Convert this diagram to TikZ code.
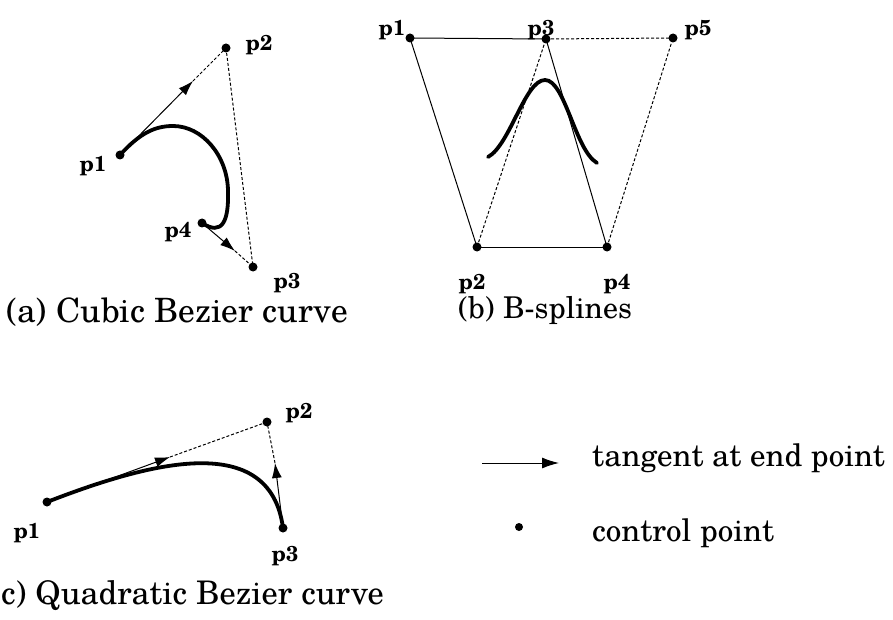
\documentclass[tikz,border=0pt]{standalone}
\usepackage{fontspec}
\setmainfont{TeX Gyre Schola}
\usetikzlibrary{arrows.meta,calc}
\begin{document}
\begin{tikzpicture}[x=1pt,y=-1pt,
 cp/.style={circle,fill=black,inner sep=0pt,minimum size=9pt},
 lbl/.style={font=\fontsize{21.5}{24}\selectfont\bfseries,inner sep=0pt},
 captext/.style={font=\fontsize{31}{36}\selectfont,inner sep=0pt},
 thinln/.style={line width=1pt},
 dashln/.style={line width=1pt,dash pattern=on 3pt off 2pt},
 tanarrow/.style={line width=1pt,-{Latex[length=15pt,width=10pt]}},
 crv/.style={line width=3.8pt,line cap=round}]
\useasboundingbox (0,0) rectangle (893,620);
\fill[white] (0,0) rectangle (893,620);

% ---------- (a) cubic Bezier
\node[cp] (a1) at (120,155) {};
\node[cp] (a2) at (226,48) {};
\node[cp] (a3) at (253,267) {};
\node[cp] (a4) at (202,223) {};
\coordinate (at1) at (193,81);
\coordinate (at4) at (235,251);
\draw[crv] (a1.center) .. controls (140,133) and (155,126) .. (173,126)
  .. controls (202,126) and (227,155) .. (228,190)
  .. controls (229,222) and (222,236) .. (a4.center);
\draw[tanarrow] (a1.center) -- (at1);
\draw[dashln] (at1) -- (a2.center);
\draw[tanarrow] (a4.center) -- (at4);
\draw[dashln] (at4) -- (a3.center);
\draw[dashln] (a2.center) -- (a3.center);
\node[lbl] (la1) at (93,166) {p1};
\node[lbl] (la2) at (259,45) {p2};
\node[lbl] (la3) at (287,283) {p3};
\node[lbl] (la4) at (178,232) {p4};
\node[captext,font=\fontsize{33.5}{38}\selectfont] (capa) at (177,312) {(a) Cubic Bezier curve};

% ---------- (b) B-splines
\node[cp] (b1) at (410,38) {};
\node[cp] (b3) at (546,39) {};
\node[cp] (b5) at (673,38) {};
\node[cp] (b2) at (477,247) {};
\node[cp] (b4) at (607,247) {};
\draw[thinln] (b1.center) -- (b3.center);
\draw[thinln] (b1.center) -- (b2.center);
\draw[thinln] (b2.center) -- (b4.center);
\draw[thinln] (b3.center) -- (b4.center);
\draw[dashln] (b3.center) -- (b5.center);
\draw[dashln] (b2.center) -- (b3.center);
\draw[dashln] (b4.center) -- (b5.center);
\draw[crv] (488,157) .. controls (510,145) and (525,80) .. (545,80)
  .. controls (565,80) and (575,150) .. (597,163);
\node[lbl] (lb1) at (392,30) {p1};
\node[lbl] (lb3) at (541,30) {p3};
\node[lbl] (lb5) at (698,30) {p5};
\node[lbl] (lb2) at (472,284) {p2};
\node[lbl] (lb4) at (617,284) {p4};
\node[captext,font=\fontsize{30}{35}\selectfont] (capb) at (545,310) {(b) B-splines};

% ---------- (c) quadratic Bezier
\node[cp] (c1) at (47,502) {};
\node[cp] (c2) at (267,422) {};
\node[cp] (c3) at (283,528) {};
\coordinate (ct1) at (170,457);
\coordinate (ct3) at (275,463);
\draw[crv] (c1.center) .. controls (150,462) and (270,430) .. (c3.center);
\draw[tanarrow] (c1.center) -- (ct1);
\draw[dashln] (ct1) -- (c2.center);
\draw[tanarrow] (c3.center) -- (ct3);
\draw[dashln] (ct3) -- (c2.center);
\node[lbl] (lc1) at (27,533) {p1};
\node[lbl] (lc2) at (299,413) {p2};
\node[lbl] (lc3) at (285,556) {p3};
\node[captext,anchor=west,font=\fontsize{32.5}{37}\selectfont] (capc) at (1,596) {c) Quadratic Bezier curve};

% ---------- legend
\coordinate (lg1) at (482,463);
\coordinate (lg2) at (559,463);
\draw[line width=1pt,-{Latex[length=17pt,width=11pt]}] (lg1) -- (lg2);
\node[captext,anchor=west] (lgt) at (592,458) {tangent at end point};
\node[cp,minimum size=8pt] (lgd) at (519,527) {};
\node[captext,anchor=west] (lgc) at (592,533) {control point};
\end{tikzpicture}
\end{document}
